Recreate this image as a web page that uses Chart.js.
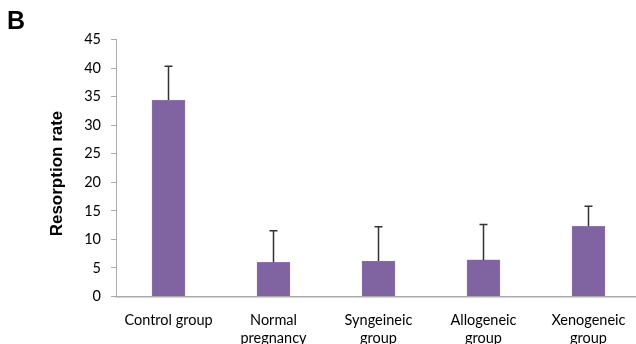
<!DOCTYPE html>
<html>
<head>
<meta charset="utf-8">
<script src="https://cdn.jsdelivr.net/npm/chart.js@4/dist/chart.umd.min.js"></script>
<style>
  html, body { margin: 0; padding: 0; background: #fff; overflow: hidden; }
  #wrap { position: relative; width: 641px; height: 344px; }
  #panel { position: absolute; left: 7px; top: 6px; font: bold 25px "Liberation Sans", Arial, sans-serif; color: #000; }
</style>
</head>
<body>
<div id="wrap">
  <canvas id="chart" width="641" height="344"></canvas>
  <div id="panel">B</div>
</div>
<script>
// Resorption rate per group (mean with upward SD bar)
const categories = ["Control group", ["Normal", "pregnancy"], ["Syngeineic", "group"], ["Allogeneic", "group"], ["Xenogeneic", "group"]];
const resorptionMean = [34.4, 6.0, 6.2, 6.4, 12.3];
const resorptionSD = [5.9, 5.5, 6.0, 6.2, 3.5];
const yMin = 0, yMax = 45, yStep = 5;
const yTitle = 'Resorption rate';

const errorBars = {
  id: 'errorBars',
  afterDatasetsDraw(chart) {
    const { ctx, scales: { y } } = chart;
    const meta = chart.getDatasetMeta(0);
    ctx.save();
    ctx.strokeStyle = '#333333';
    ctx.lineWidth = 1.5;
    meta.data.forEach((bar, i) => {
      const x = bar.x;
      const top = y.getPixelForValue(resorptionMean[i] + resorptionSD[i]);
      const base = y.getPixelForValue(resorptionMean[i]);
      ctx.beginPath();
      ctx.moveTo(x, base);
      ctx.lineTo(x, top);
      ctx.moveTo(x - 4, top);
      ctx.lineTo(x + 4, top);
      ctx.stroke();
    });
    ctx.restore();
  }
};

// Rotated y-axis title, set slightly below the plot's vertical middle
const axisTitle = {
  id: 'axisTitle',
  afterDraw(chart) {
    const { ctx, chartArea } = chart;
    ctx.save();
    ctx.translate(57, (chartArea.top + chartArea.bottom) / 2 + 5.5);
    ctx.rotate(-Math.PI / 2);
    ctx.font = 'bold 17px "Liberation Sans", Arial, sans-serif';
    ctx.fillStyle = '#000';
    ctx.textAlign = 'center';
    ctx.textBaseline = 'middle';
    ctx.fillText(yTitle, 0, 0);
    ctx.restore();
  }
};

new Chart(document.getElementById('chart'), {
  type: 'bar',
  data: {
    labels: categories,
    datasets: [{
      data: resorptionMean,
      backgroundColor: '#8064A2',
      borderColor: '#9a82b8',
      borderWidth: 0.5,
      barThickness: 33
    }]
  },
  options: {
    responsive: false,
    animation: false,
    layout: { padding: { top: 39.5, right: 0, left: 0, bottom: 0 } },
    plugins: { legend: { display: false }, tooltip: { enabled: false } },
    scales: {
      x: {
        grid: { display: true, drawOnChartArea: false, drawTicks: false },
        border: { display: true, color: '#ABABAB', width: 1.5 },
        ticks: {
          color: '#000',
          padding: 14,
          maxRotation: 0,
          autoSkip: false,
          font: { family: 'Lato, "Open Sans", sans-serif', size: 14.5, lineHeight: 1.3 }
        },
        afterFit(s) { s.height = 47.5; }
      },
      y: {
        min: yMin,
        max: yMax,
        ticks: {
          stepSize: yStep,
          color: '#000',
          padding: 10,
          font: { family: 'Lato, "Open Sans", sans-serif', size: 14.5 }
        },
        grid: { display: true, drawOnChartArea: false, drawTicks: true, tickLength: 5, color: '#ABABAB' },
        border: { display: true, color: '#ABABAB', width: 1 },
        afterFit(s) { s.width = 116; }
      }
    }
  },
  plugins: [errorBars, axisTitle]
});
</script>
</body>
</html>
